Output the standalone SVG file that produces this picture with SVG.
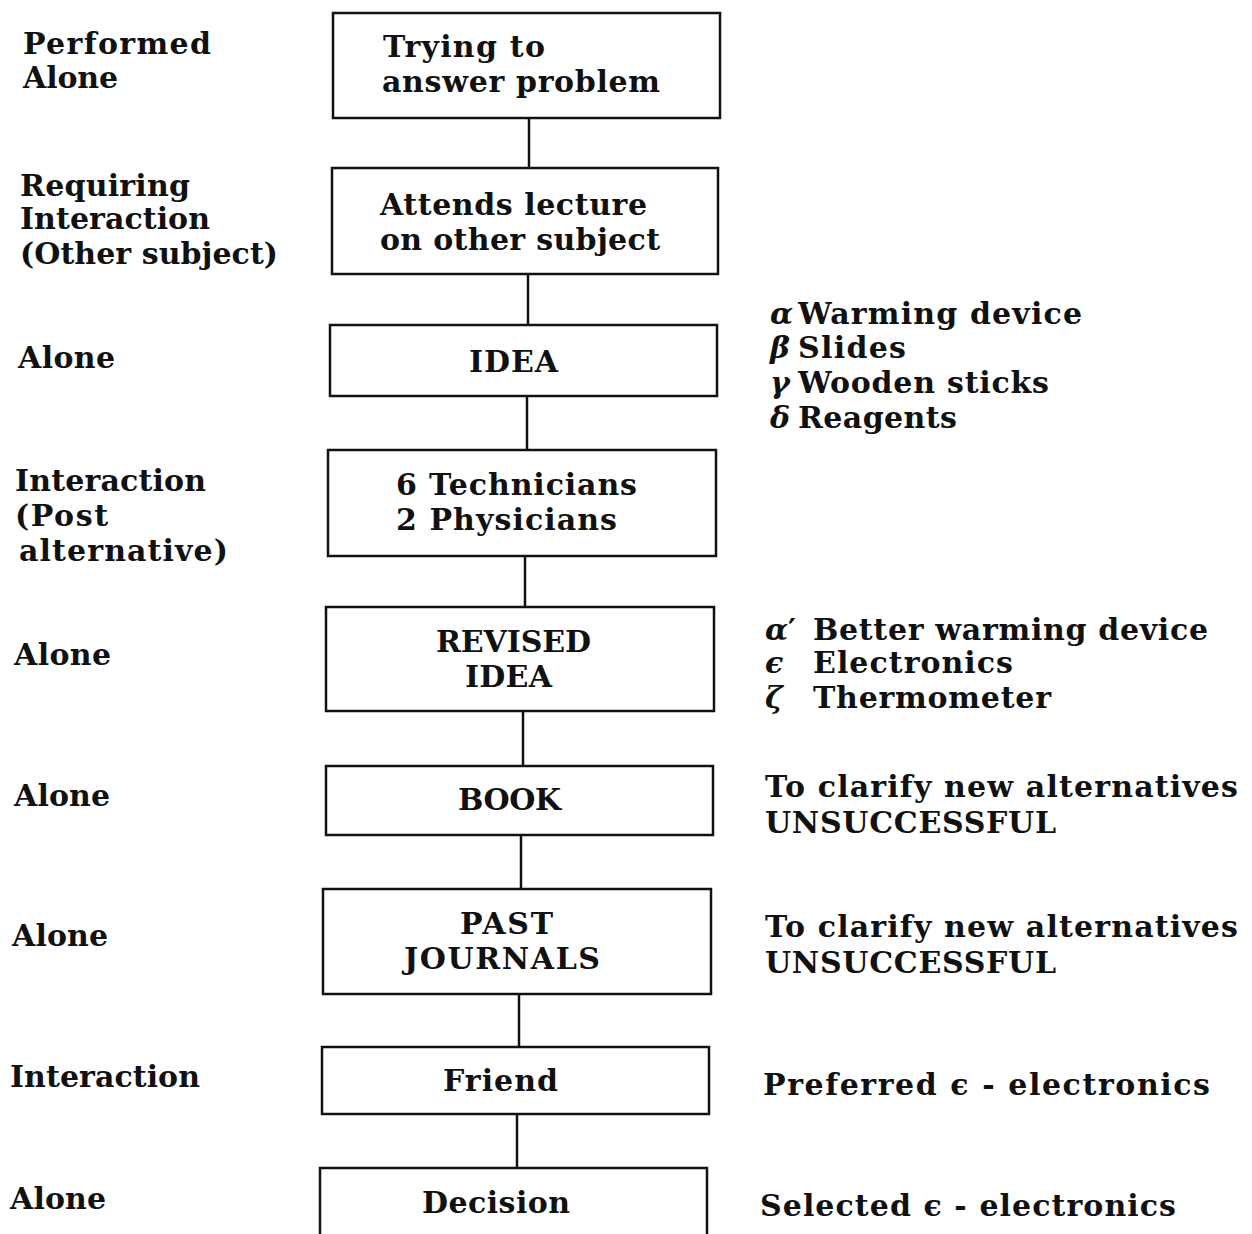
<svg xmlns="http://www.w3.org/2000/svg" width="1252" height="1234" viewBox="0 0 1252 1234">
<style>
text{font-family:"DejaVu Serif","Liberation Serif",serif;font-size:30px;font-weight:bold;fill:#111}
.box{fill:#fff;stroke:#111;stroke-width:2.5}
.con{stroke:#111;stroke-width:2.5;fill:none}
.g{font-style:italic}
</style>
<rect width="1252" height="1234" fill="#fff"/>
<g id="connectors">
<line class="con" x1="529" y1="118" x2="529" y2="168"/>
<line class="con" x1="528" y1="274" x2="528" y2="325"/>
<line class="con" x1="527" y1="396" x2="527" y2="450"/>
<line class="con" x1="525" y1="556" x2="525" y2="607"/>
<line class="con" x1="523" y1="711" x2="523" y2="766"/>
<line class="con" x1="521" y1="835" x2="521" y2="889"/>
<line class="con" x1="519" y1="994" x2="519" y2="1047"/>
<line class="con" x1="517" y1="1114" x2="517" y2="1168"/>
</g>
<g id="n1"><rect class="box" x="333" y="13" width="387" height="105"/>
<text x="383" y="57" textLength="162">Trying to</text>
<text x="382" y="92" textLength="278">answer problem</text></g>
<g id="n2"><rect class="box" x="332" y="168" width="386" height="106"/>
<text x="380" y="215" textLength="267">Attends lecture</text>
<text x="380" y="250" textLength="280">on other subject</text></g>
<g id="n3"><rect class="box" x="330" y="325" width="387" height="71"/>
<text x="469" y="372" textLength="89">IDEA</text></g>
<g id="n4"><rect class="box" x="328" y="450" width="388" height="106"/>
<text x="396" y="495" textLength="241">6 Technicians</text>
<text x="396" y="530" textLength="221">2 Physicians</text></g>
<g id="n5"><rect class="box" x="326" y="607" width="388" height="104"/>
<text x="436" y="652" textLength="155">REVISED</text>
<text x="465" y="687" textLength="87">IDEA</text></g>
<g id="n6"><rect class="box" x="326" y="766" width="387" height="69"/>
<text x="458" y="810" textLength="103">BOOK</text></g>
<g id="n7"><rect class="box" x="323" y="889" width="388" height="105"/>
<text x="460" y="934" textLength="93">PAST</text>
<text x="404" y="969" textLength="196">JOURNALS</text></g>
<g id="n8"><rect class="box" x="322" y="1047" width="387" height="67"/>
<text x="443" y="1091" textLength="115">Friend</text></g>
<g id="n9"><path class="box" d="M320 1236 V1168 H707 V1236"/>
<text x="422" y="1213" textLength="148">Decision</text></g>
<g id="left-labels">
<text x="23" y="54" textLength="188">Performed</text>
<text x="23" y="88" textLength="95">Alone</text>
<text x="20" y="196" textLength="170">Requiring</text>
<text x="20" y="229" textLength="190">Interaction</text>
<text x="20" y="264" textLength="258">(Other subject)</text>
<text x="18" y="368" textLength="97">Alone</text>
<text x="15" y="491" textLength="191">Interaction</text>
<text x="15" y="526" textLength="93">(Post</text>
<text x="19" y="561" textLength="209">alternative)</text>
<text x="14" y="665" textLength="97">Alone</text>
<text x="14" y="806" textLength="96">Alone</text>
<text x="12" y="946" textLength="96">Alone</text>
<text x="10" y="1087" textLength="190">Interaction</text>
<text x="10" y="1209" textLength="96">Alone</text>
</g>
<g id="right-labels">
<text class="g" x="770" y="324">α</text><text x="798" y="324" textLength="284">Warming device</text>
<text class="g" x="770" y="358">β</text><text x="798" y="358" textLength="108">Slides</text>
<text class="g" x="770" y="393">γ</text><text x="798" y="393" textLength="251">Wooden sticks</text>
<text class="g" x="770" y="428">δ</text><text x="798" y="428" textLength="159">Reagents</text>
<text class="g" x="765" y="640">α</text><text x="788" y="640">′</text><text x="813" y="640" textLength="395">Better warming device</text>
<text class="g" x="765" y="673">ϵ</text><text x="813" y="673" textLength="200">Electronics</text>
<text class="g" x="765" y="708">ζ</text><text x="813" y="708" textLength="238">Thermometer</text>
<text x="765" y="797" textLength="473">To clarify new alternatives</text>
<text x="765" y="833" textLength="291">UNSUCCESSFUL</text>
<text x="765" y="937" textLength="473">To clarify new alternatives</text>
<text x="765" y="973" textLength="291">UNSUCCESSFUL</text>
<text x="763" y="1095" textLength="447">Preferred ϵ - electronics</text>
<text x="760" y="1216" textLength="416">Selected ϵ - electronics</text>
</g>
</svg>
